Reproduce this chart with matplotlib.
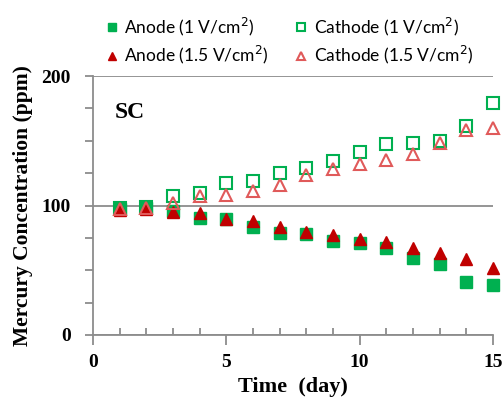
import matplotlib
matplotlib.use('Agg')
import matplotlib.pyplot as plt
from matplotlib.ticker import MultipleLocator

# Data
days = [1, 2, 3, 4, 5, 6, 7, 8, 9, 10, 11, 12, 13, 14, 15]
anode_1v = [97, 97.8, 96, 90, 89.6, 83.6, 78.5, 78, 72.8, 70.8, 67, 59.2, 54.6, 41.2, 38.6]
cathode_1v = [98, 99, 107.3, 109.4, 117.6, 119.2, 124.8, 128.7, 134.6, 141.6, 147.2, 148.5, 150, 161.4, 178.9]
anode_15v = [96.5, 97, 95.2, 94, 89.3, 88.3, 83.6, 79.8, 77.2, 73.9, 71.6, 67.4, 63, 58.4, 52]
cathode_15v = [97, 98, 101.7, 107.3, 108, 111.2, 115.8, 123.5, 128, 132, 135, 139.5, 148.5, 158.3, 160]

green = '#00B050'
red = '#C00000'
light_red = '#E05A5A'
axis_gray = '#8C8C8C'
serif = 'Liberation Serif'

fig = plt.figure(figsize=(5.04, 4.07), dpi=100)
ax = fig.add_axes([0.1845, 0.177, 0.7935, 0.636])

ms = 8
h_a1, = ax.plot(days, anode_1v, 's', color=green, ms=ms, label='Anode (1 V/cm$^2$)',
                zorder=3, clip_on=False)
h_c1, = ax.plot(days, cathode_1v, 's', mfc='none', mec=green, mew=1.5, ms=ms,
                label='Cathode (1 V/cm$^2$)', zorder=3, clip_on=False)
h_a15, = ax.plot(days, anode_15v, '^', color=red, ms=ms, label='Anode (1.5 V/cm$^2$)',
                 zorder=4, clip_on=False)
h_c15, = ax.plot(days, cathode_15v, '^', mfc='none', mec=light_red, mew=1.5, ms=ms,
                 label='Cathode (1.5 V/cm$^2$)', zorder=4, clip_on=False)

ax.set_xlim(0, 15)
ax.set_ylim(0, 200)
ax.xaxis.set_major_locator(MultipleLocator(5))
ax.xaxis.set_minor_locator(MultipleLocator(1))
ax.yaxis.set_major_locator(MultipleLocator(100))
ax.yaxis.set_minor_locator(MultipleLocator(25))

for s in ['top', 'right']:
    ax.spines[s].set_visible(False)
for s in ['left', 'bottom']:
    ax.spines[s].set_color(axis_gray)
    ax.spines[s].set_linewidth(1.3)
ax.grid(axis='y', which='major', color=axis_gray, linewidth=1.3)
ax.set_axisbelow(True)

ax.tick_params(axis='x', which='major', direction='out', length=7, color=axis_gray,
               width=1.3, pad=7)
ax.tick_params(axis='x', which='minor', direction='in', length=5, color=axis_gray, width=1.3)
ax.tick_params(axis='y', which='both', direction='out', length=6, color=axis_gray,
               width=1.3, pad=10)

for lab in ax.get_xticklabels() + ax.get_yticklabels():
    lab.set_fontfamily(serif)
    lab.set_fontweight('bold')
    lab.set_fontsize(14)

ax.set_xlabel('Time  (day)', fontfamily=serif, fontweight='bold', fontsize=16, labelpad=4)
ax.set_ylabel('Mercury Concentration (ppm)', fontfamily=serif, fontweight='bold',
              fontsize=15.5, labelpad=6)

ax.text(0.8, 172, 'SC', fontfamily=serif, fontweight='bold', fontsize=17, va='center')

# two rows: 1 V/cm2 on top, 1.5 V/cm2 below (legend fills column by column)
fig.legend([h_a1, h_a15, h_c1, h_c15],
           [h_a1.get_label(), h_a15.get_label(), h_c1.get_label(), h_c15.get_label()],
           loc='upper left', bbox_to_anchor=(0.17, 1.0), ncol=2, frameon=False,
           prop={'family': 'Lato', 'size': 12.5}, handletextpad=0.1, columnspacing=1.3,
           labelspacing=0.35, markerscale=0.8, handlelength=1.2)

fig.savefig('out.png', dpi=100)
